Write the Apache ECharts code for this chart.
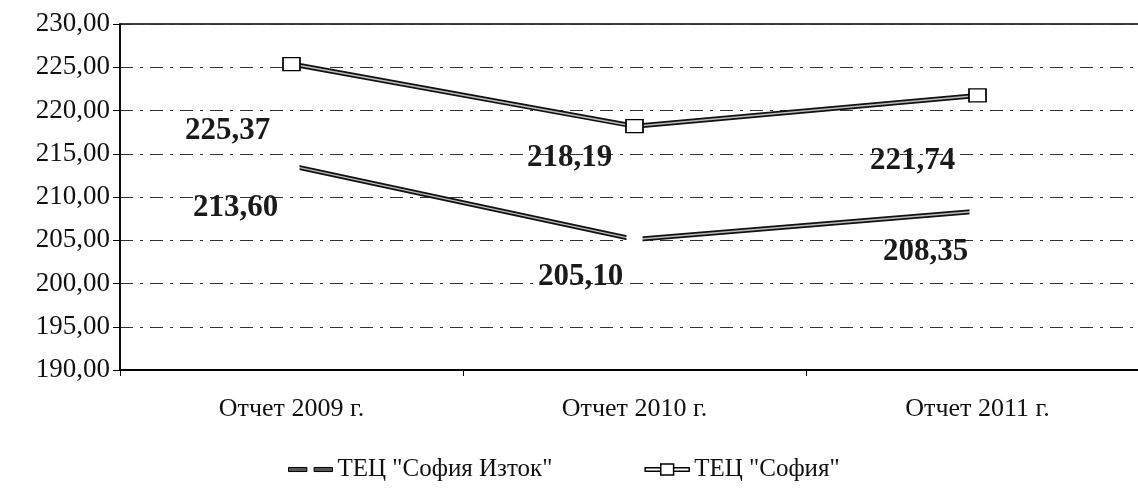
<!DOCTYPE html>
<html>
<head>
<meta charset="utf-8">
<script src="https://cdn.jsdelivr.net/npm/echarts@6/dist/echarts.min.js"></script>
<style>html,body{margin:0;padding:0;background:#fff;overflow:hidden}#c{width:1149px;height:498px}</style>
</head>
<body>
<div id="c"></div>
<script>
const categories = ['Отчет 2009 г.', 'Отчет 2010 г.', 'Отчет 2011 г.'];
const seriesNames = ['ТЕЦ "София Изток"', 'ТЕЦ "София"'];
const iztokValues = [213.60, 205.10, 208.35];
const sofiaValues = [225.37, 218.19, 221.74];
const yMin = 190, yMax = 230, yStep = 5;

// label placement (style, not data)
const iztokLabelOffsets = [[-56, 42], [-54, 38], [-52, 41]];
const sofiaLabelOffsets = [[-64, 67], [-65, 32], [-65, 66]];

const FONT = '"Liberation Serif", "Times New Roman", serif';
const fmt = v => v.toFixed(2).replace('.', ',');

function withLabels(values, offsets) {
  return values.map((v, i) => ({ value: v, label: { offset: offsets[i] } }));
}

const labelStyle = {
  show: true, position: 'inside', color: '#1a1a1a', fontFamily: FONT,
  fontSize: 31, fontWeight: 'bold', formatter: p => fmt(p.value)
};

const chart = echarts.init(document.getElementById('c'));
chart.setOption({
  animation: false,
  backgroundColor: '#fff',
  grid: { left: 120, right: 0, top: 24, height: 346, show: true, borderColor: '#000', borderWidth: 1.5 },
  legend: {
    top: 452, left: 283, itemGap: 92, itemWidth: 44, itemHeight: 12,
    textStyle: { fontFamily: FONT, fontSize: 25, color: '#111' },
    data: [
      { name: seriesNames[0], icon: 'path://M0,4h18v4h-18z M25,4h18v4h-18z',
        itemStyle: { color: '#555', borderColor: '#000', borderWidth: 1 } },
      { name: seriesNames[1], icon: 'path://M0,4h17v4h-17z M31,4h17v4h-17z M17,0h14v12h-14z',
        itemStyle: { color: '#fff', borderColor: '#000', borderWidth: 1.5 } }
    ]
  },
  xAxis: {
    type: 'category', data: categories, boundaryGap: true,
    axisLine: { lineStyle: { color: '#000', width: 2 } },
    axisTick: { show: true, length: 6, lineStyle: { color: '#000' } },
    axisLabel: { fontFamily: FONT, fontSize: 26, color: '#111', margin: 26 }
  },
  yAxis: {
    type: 'value', min: yMin, max: yMax, interval: yStep,
    axisLine: { show: true, lineStyle: { color: '#000', width: 1.5 } },
    axisTick: { show: true, length: 7, lineStyle: { color: '#000' } },
    axisLabel: { fontFamily: FONT, fontSize: 27, color: '#111', margin: 10, formatter: fmt },
    splitLine: { lineStyle: { color: '#333', width: 1, type: [13, 7, 3, 7] } }
  },
  series: [
    { name: seriesNames[0] + ' ', type: 'line', data: iztokValues, symbol: 'none', silent: true,
      lineStyle: { color: '#111', width: 5 }, z: 3 },
    { name: seriesNames[0] + '  ', type: 'line', data: iztokValues, symbol: 'none', silent: true,
      lineStyle: { color: '#bbb', width: 1.5 }, z: 4 },
    { name: seriesNames[0], type: 'line', data: withLabels(iztokValues, iztokLabelOffsets),
      symbol: 'rect', symbolSize: [16, 12], showSymbol: true,
      itemStyle: { color: '#fff', borderWidth: 0 },
      lineStyle: { width: 0, color: '#222' }, label: labelStyle, z: 5 },
    { name: seriesNames[1] + ' ', type: 'line', data: sofiaValues, symbol: 'none', silent: true,
      lineStyle: { color: '#111', width: 5 }, z: 3 },
    { name: seriesNames[1] + '  ', type: 'line', data: sofiaValues, symbol: 'none', silent: true,
      lineStyle: { color: '#bbb', width: 1.5 }, z: 4 },
    { name: seriesNames[1], type: 'line', data: withLabels(sofiaValues, sofiaLabelOffsets),
      symbol: 'rect', symbolSize: [17, 13], showSymbol: true,
      itemStyle: { color: '#fff', borderColor: '#000', borderWidth: 1.5 },
      lineStyle: { width: 0, color: '#222' }, label: labelStyle, z: 5 }
  ]
});
</script>
</body>
</html>
